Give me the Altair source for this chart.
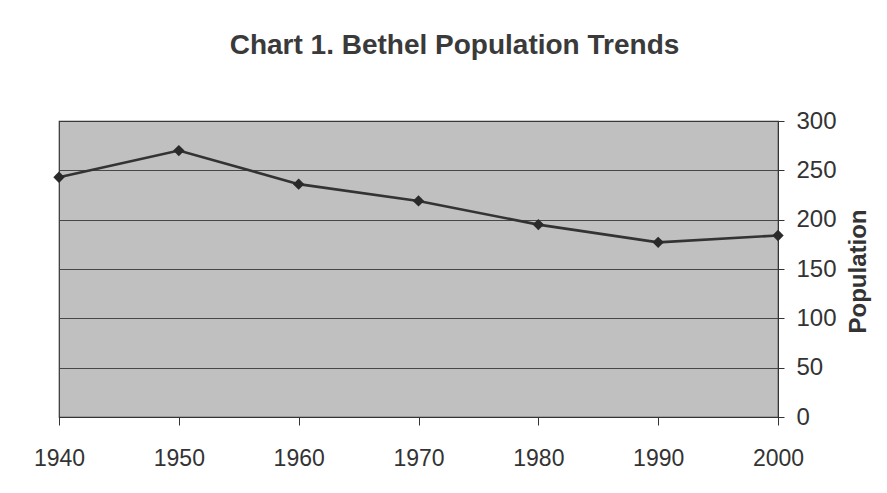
import altair as alt
import pandas as pd

years = [1940, 1950, 1960, 1970, 1980, 1990, 2000]
population = [243, 270, 236, 219, 195, 177, 184]
y_ticks = [0, 50, 100, 150, 200, 250, 300]

df = pd.DataFrame({"Year": years, "Population": population})

base = alt.Chart(df).encode(
    x=alt.X(
        "Year:Q",
        scale=alt.Scale(domain=[1940, 2000], nice=False, zero=False),
        axis=alt.Axis(
            values=years, format="d", title=None, grid=False,
            labelFontSize=23, labelColor="#333333", labelFont="Liberation Sans",
            tickSize=8, tickColor="#333333", domainColor="#333333",
            labelPadding=22, labelFlush=False,
        ),
    ),
    y=alt.Y(
        "Population:Q",
        scale=alt.Scale(domain=[0, 300], nice=False),
        axis=alt.Axis(
            orient="right", values=y_ticks, title="Population",
            titleAngle=270, titleFontSize=24, titleFontWeight="bold",
            titleColor="#333333", titleFont="Liberation Sans",
            titleX=80, titleY=150, titleAlign="center", titleBaseline="middle",
            labelFontSize=24, labelColor="#333333", labelFont="Liberation Sans",
            tickSize=6, tickColor="#333333", domainColor="#333333",
            labelPadding=12, grid=True, gridColor="#3a3a3a", gridWidth=1.2,
            gridOpacity=0.9,
        ),
    ),
)

line = base.mark_line(color="#333333", strokeWidth=2.6)
points = base.mark_point(shape="diamond", filled=True, color="#2a2a2a", size=130, opacity=1)

chart = (line + points).properties(
    width=719,
    height=296,
    autosize=alt.AutoSizeParams(type="none"),
    padding={"left": 51, "top": 113, "right": 101, "bottom": 68},
    title=alt.TitleParams(
        "Chart 1. Bethel Population Trends",
        fontSize=28, fontWeight="bold", color="#3a3a3a",
        font="Liberation Sans", anchor="middle", dx=36, offset=49,
    ),
).configure(
    background="white"
).configure_view(
    fill="#c0c0c0", stroke="#333333", strokeWidth=1.2
)

chart.save("out.html", embed_options={"renderer": "svg", "actions": False})
